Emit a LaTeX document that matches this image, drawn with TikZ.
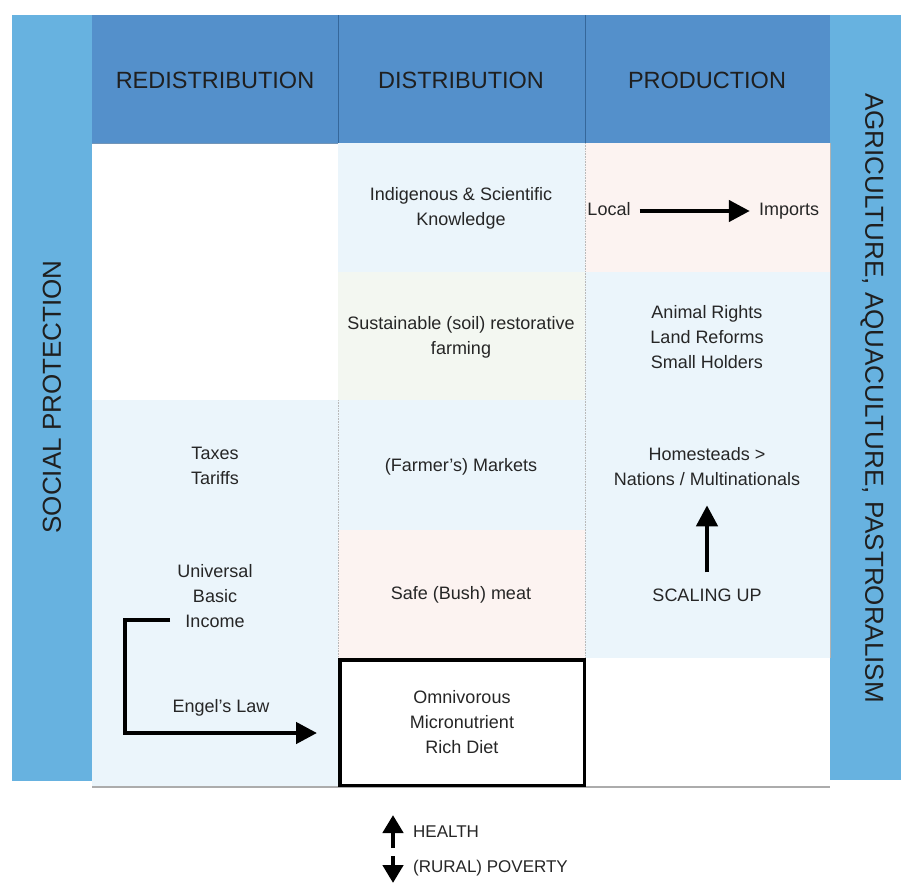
\documentclass[tikz,border=0pt]{standalone}
\usepackage{fontspec}
\setmainfont{Liberation Sans}
\usetikzlibrary{arrows.meta}
\definecolor{barblue}{HTML}{67B2E0}
\definecolor{headblue}{HTML}{5490CB}
\definecolor{headline}{HTML}{35679A}
\definecolor{cellblue}{HTML}{EBF5FB}
\definecolor{cellgreen}{HTML}{F3F7F1}
\definecolor{cellpink}{HTML}{FCF3F1}
\definecolor{txt}{HTML}{262626}
\begin{document}
\begin{tikzpicture}[x=1pt,y=-1pt,
  body/.style={font=\fontsize{18}{25}\selectfont, text=txt, align=center, inner sep=0pt},
  headtxt/.style={font=\fontsize{23.5}{28}\selectfont, text=black!88, inner sep=0pt},
  sidetxt/.style={font=\fontsize{26}{30}\selectfont, text=black!88, inner sep=0pt},
  bigarrow/.style={line width=4.5pt, -{Triangle[length=21pt,width=21pt]}},
  smallarrow/.style={line width=4.5pt, -{Triangle[length=18pt,width=20pt]}},
  boxstyle/.style={draw=black, line width=3.5pt, minimum width=244.5pt, minimum height=125.5pt}]
\useasboundingbox (0,0) rectangle (901,884);
\fill[white] (0,0) rectangle (901,884);
% side bars
\fill[barblue] (12,15) rectangle (92,781);
\fill[barblue] (830,15) rectangle (901,780);
% header
\fill[headblue] (92,15) rectangle (830,143);
\draw[headline, line width=1pt] (338,15) -- (338,143) (585,15) -- (585,143);
\draw[headline!70, line width=0.6pt] (92,143) -- (830,143);
% cells
\fill[cellblue] (92,400) rectangle (338,786);
\fill[cellblue] (338,143) rectangle (585,272);
\fill[cellgreen] (338,272) rectangle (585,400);
\fill[cellblue] (338,400) rectangle (585,530);
\fill[cellpink] (338,530) rectangle (585,658);
\fill[cellpink] (585,143) rectangle (830,272);
\fill[cellblue] (585,272) rectangle (830,658);
\draw[gray!55, densely dotted, line width=0.6pt] (338,400) -- (338,658) (585,143) -- (585,658);
\draw[gray!60, line width=0.8pt] (830,143) -- (830,658);
\draw[gray!65, line width=1.2pt] (92,787) -- (830,787);
% headers
\node[headtxt] (hredis) at (215,80) {REDISTRIBUTION};
\node[headtxt] (hdist) at (461,80) {DISTRIBUTION};
\node[headtxt] (hprod) at (707,80) {PRODUCTION};
% side labels
\node[sidetxt, rotate=90] (social) at (52,397) {SOCIAL PROTECTION};
\node[sidetxt, rotate=-90] (agri) at (872,398) {AGRICULTURE, AQUACULTURE, PASTRORALISM};
% cell texts
\node[body] (ind) at (461,208) {Indigenous \& Scientific\\Knowledge};
\node[body] (local) at (609,209) {Local};
\node[body] (imports) at (789,211) {Imports};
\node[body] (sust) at (461,337) {Sustainable (soil) restorative\\farming};
\node[body] (animal) at (707,337) {Animal Rights\\Land Reforms\\Small Holders};
\node[body] (taxes) at (215,466) {Taxes\\Tariffs};
\node[body] (markets) at (461,467) {(Farmer's) Markets};
\node[body] (homesteads) at (707,467) {Homesteads >\\Nations / Multinationals};
\node[body] (ubi) at (215,596) {Universal\\Basic\\Income};
\node[body] (safe) at (461,595) {Safe (Bush) meat};
\node[body] (scaling) at (707,595) {SCALING UP};
\node[body] (engel) at (221,708) {Engel's Law};
\node[body, boxstyle] (omni) at (462,722.5) {Omnivorous\\Micronutrient\\Rich Diet};
\node[body, font=\fontsize{17}{22}\selectfont, anchor=west] (health) at (413,832) {HEALTH};
\node[body, font=\fontsize{17}{22}\selectfont, anchor=west] (poverty) at (413,868) {(RURAL) POVERTY};
% connectors
\draw[bigarrow, shorten >=9pt] (local.east) ++(9,2) coordinate (lstart) -- (lstart -| imports.west);
\draw[bigarrow, shorten <=16pt, shorten >=19pt] (scaling.north) -- (scaling.north |- homesteads.south);
\coordinate (ubistart) at (170,620);
\coordinate (ubicorner) at (125,620);
\coordinate (engelend) at (317,733);
\draw[bigarrow] (ubistart) -- (ubicorner) |- (engelend);
\coordinate (hup0) at (393,848);
\coordinate (hup1) at (393,815);
\coordinate (pdn0) at (393,856);
\coordinate (pdn1) at (393,883);
\draw[smallarrow] (hup0) -- (hup1);
\draw[smallarrow] (pdn0) -- (pdn1);
\end{tikzpicture}
\end{document}
